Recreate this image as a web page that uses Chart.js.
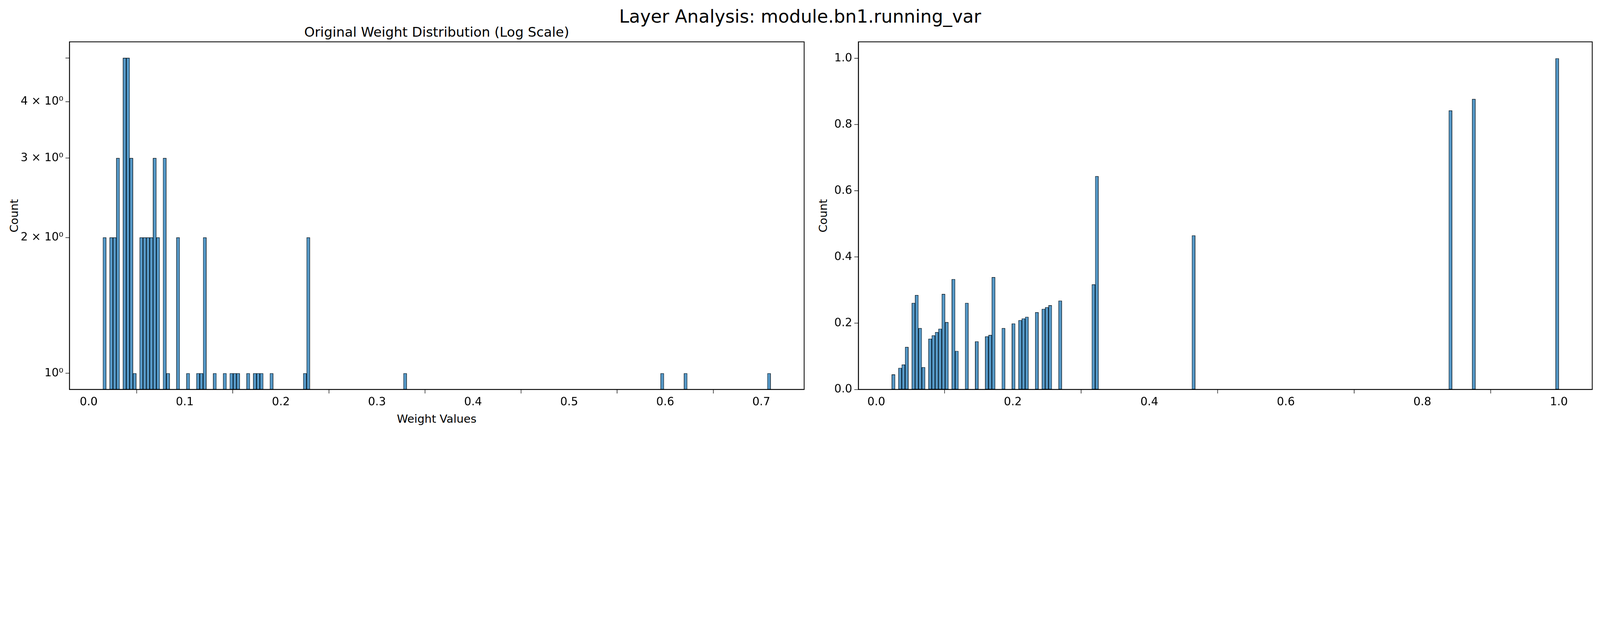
<!DOCTYPE html>
<html><head><meta charset="utf-8">
<script src="https://cdn.jsdelivr.net/npm/chart.js@4/dist/chart.umd.min.js"></script>
<style>
html,body{margin:0;background:#fff;overflow:hidden;}
#root{width:5965px;height:1614px;position:absolute;left:0;top:0;transform-origin:0 0;font-family:"DejaVu Sans",sans-serif;background:#fff;}
canvas{position:absolute;}
.t{position:absolute;color:#000;white-space:nowrap;transform:translate(-50%,-50%);}
</style></head><body>
<div id="root">
<div class="t" style="left:2983px;top:62px;font-size:67px;">Layer Analysis: module.bn1.running_var</div>
<div class="t" style="left:1628px;top:120px;font-size:50px;">Original Weight Distribution (Log Scale)</div>
<div class="t" style="left:1628px;top:1562px;font-size:42px;">Weight Values</div>
<div class="t" style="left:52px;top:805px;font-size:42px;transform:translate(-50%,-50%) rotate(-90deg);">Count</div>
<div class="t" style="left:3068px;top:805px;font-size:42px;transform:translate(-50%,-50%) rotate(-90deg);">Count</div>
<div style="position:absolute;left:0;top:120px;width:3030px;height:1494px;"><canvas id="c1" width="3030" height="1494" style="width:3030px;height:1494px;"></canvas></div>
<div style="position:absolute;left:3030px;top:120px;width:2935px;height:1494px;"><canvas id="c2" width="2935" height="1494" style="width:2935px;height:1494px;"></canvas></div>
</div>
<script>
// histogram bins (200 bins), occupied bin indices
const binIndex   = [0,2,3,4,6,7,8,9,11,12,13,14,15,16,18,19,22,25,28,29,30,33,36,38,39,40,43,45,46,47,50,60,61,90,167,174,199];
const leftCounts = [2,2,2,3,5,5,3,1,2,2,2,2,3,2,3,1,2,1,1,1,2,1,1,1,1,1,1,1,1,1,1,1,2,1,1,1,1];
const rightValues= [0.045,0.065,0.075,0.128,0.261,0.285,0.185,0.067,0.153,0.163,0.173,0.183,0.288,0.203,0.333,0.116,0.261,0.145,0.160,0.164,0.339,0.185,0.199,0.209,0.214,0.219,0.233,0.243,0.248,0.254,0.268,0.317,0.644,0.465,0.8425,0.877,1.0];
const nBins = 200;
const leftRange  = [0.0148, 0.7098];
const rightRange = [0.0226, 1.0];
const leftXTicks = [0,0.1,0.2,0.3,0.4,0.5,0.6,0.7];
const rightXTicks = [0,0.2,0.4,0.6,0.8,1.0];
const rightYTicks = [0,0.2,0.4,0.6,0.8,1.0];
const leftYTicks = [1,2,3,4,5];
const leftYLabels = {1:'10⁰',2:'2 × 10⁰',3:'3 × 10⁰',4:'4 × 10⁰',5:''};

const s = window.innerWidth/5965;
document.getElementById('root').style.transform='scale('+s+')';

function buildData(range, vals){
  const w=(range[1]-range[0])/nBins, d=[];
  for(let i=0;i<nBins;i++){
    const k=binIndex.indexOf(i);
    d.push({x:range[0]+(i+0.5)*w, y:k>=0?vals[k]:null});
  }
  return d;
}
const frame={id:'frame',afterDraw(c){const a=c.chartArea,x=c.ctx;x.save();x.strokeStyle='#000';x.lineWidth=3;x.strokeRect(a.left,a.top,a.right-a.left,a.bottom-a.top);x.restore();}};
const font={family:'DejaVu Sans',size:42};
function mk(id,data,xTicks,yOpts,xMin,xMax,yw,padR){
  return new Chart(document.getElementById(id),{
    type:'bar',
    data:{datasets:[{data,backgroundColor:'rgba(31,119,180,0.75)',borderColor:'#000',borderWidth:1.5,barPercentage:1,categoryPercentage:1,borderSkipped:false}]},
    options:{responsive:false,animation:false,devicePixelRatio:1,
      layout:{padding:{top:36,right:padR,left:0,bottom:0}},
      plugins:{legend:{display:false},tooltip:{enabled:false}},
      scales:{
        x:{type:'linear',min:xMin,max:xMax,offset:false,
          grid:{drawOnChartArea:false,drawTicks:true,tickLength:15,tickWidth:2,tickColor:'#000'},
          border:{color:'#000',width:3},
          afterBuildTicks:sc=>{sc.ticks=xTicks.map(v=>({value:v}));},
          ticks:{font,color:'#000',padding:8,maxRotation:0,autoSkip:false,callback:v=>v.toFixed(1)},
          afterFit:sc=>{sc.height=161;}},
        y:Object.assign({grid:{drawOnChartArea:false,drawTicks:true,tickLength:15,tickWidth:2,tickColor:'#000'},
          border:{color:'#000',width:3},afterFit:sc=>{sc.width=yw;}},yOpts)
      }},
    plugins:[frame]});
}
mk('c1',buildData(leftRange,leftCounts),leftXTicks,{type:'logarithmic',min:0.921,max:5.43,
  afterBuildTicks:sc=>{sc.ticks=leftYTicks.map(v=>({value:v}));},
  ticks:{font,color:'#000',padding:8,autoSkip:false,callback:v=>leftYLabels[v]}},-0.0200,0.7446,259,32);
mk('c2',buildData(rightRange,rightValues),rightXTicks,{type:'linear',min:0,max:1.05,
  afterBuildTicks:sc=>{sc.ticks=rightYTicks.map(v=>({value:v}));},
  ticks:{font,color:'#000',padding:8,autoSkip:false,callback:v=>v.toFixed(1)}},-0.0263,1.0489,170,29);
</script></body></html>
